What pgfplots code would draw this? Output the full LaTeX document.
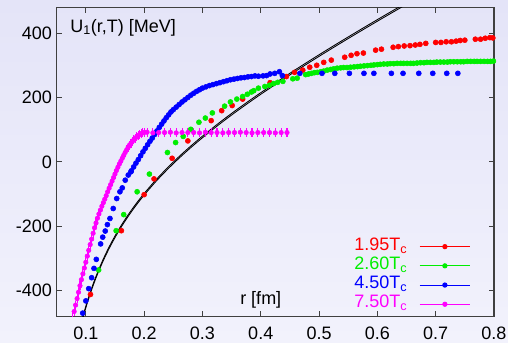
\documentclass[border=0pt]{standalone}
\usepackage{fontspec}
\setmainfont{Liberation Sans}
\usepackage{pgfplots}
\pgfplotsset{compat=1.18}
\definecolor{bgtop}{RGB}{228,228,248}
\definecolor{bgbot}{RGB}{242,242,252}
\definecolor{axgray}{RGB}{64,64,64}
\definecolor{ored}{RGB}{255,0,0}
\definecolor{ogreen}{RGB}{0,238,0}
\definecolor{oblue}{RGB}{0,0,255}
\definecolor{omag}{RGB}{255,0,255}
\begin{document}
\begin{tikzpicture}
\fill[top color=bgtop, bottom color=bgbot] (-42.5pt,-20pt) rectangle (338.5pt,237.25pt);
\useasboundingbox (-42.5pt,-20pt) rectangle (338.5pt,237.25pt);
\begin{axis}[
  scale only axis, width=328pt, height=231.75pt,
  xmin=0.05, xmax=0.8, ymin=-480, ymax=480,
  xtick={0.1,0.2,0.3,0.4,0.5,0.6,0.7,0.8},
  xticklabels={0.1,0.2,0.3,0.4,0.5,0.6,0.7,0.8},
  ytick={-400,-200,0,200,400},
  yticklabels={-400,-200,0,200,400},
  tick align=inside, major tick length=4pt,
  axis line style={axgray, line width=0.9pt},
  every tick/.style={axgray, line width=0.8pt},
  ticklabel style={font=\fontsize{13.5}{16}\selectfont},
  xticklabel style={inner sep=0pt, yshift=-7.5pt},
  legend style={draw=none, fill=none, inner sep=0pt, outer sep=0pt,
    at={(rel axis cs:0.9467,0.2566)}, anchor=north east,
    row sep=0pt, column sep=8.8pt,
    font=\fontsize{13.5}{16}\selectfont,
    nodes={inner sep=0pt, text height=10pt, text depth=4.4pt}},
  legend plot pos=right, legend cell align=right,
  legend image code/.code={\draw[mark repeat=2,mark phase=2] plot coordinates {(0pt,0pt) (19pt,0pt) (38pt,0pt)};},
]
% Cornell-like reference curves
\addplot[black, line width=0.65pt, smooth, forget plot] coordinates {
(0.09,-515.2) (0.095,-480.4) (0.10,-448.6) (0.105,-419.4) (0.11,-392.4) (0.115,-367.4)
(0.12,-344.1) (0.13,-301.8) (0.14,-264.2) (0.15,-230.4) (0.16,-199.7) (0.17,-171.5)
(0.18,-145.4) (0.19,-121.1) (0.20,-98.3) (0.22,-56.4) (0.24,-18.5) (0.26,16.5)
(0.28,49.1) (0.30,79.8) (0.33,123.1) (0.36,163.7) (0.40,214.8) (0.45,275.2)
(0.50,332.7) (0.55,388.1) (0.60,441.9) (0.65,494.5)};
\addplot[black, line width=0.65pt, smooth, forget plot] coordinates {
(0.09,-520.2) (0.095,-485.4) (0.10,-453.6) (0.105,-424.4) (0.11,-397.4) (0.115,-372.4)
(0.12,-349.1) (0.13,-306.8) (0.14,-269.2) (0.15,-235.4) (0.16,-204.7) (0.17,-176.5)
(0.18,-150.4) (0.19,-126.1) (0.20,-103.3) (0.22,-61.4) (0.24,-23.5) (0.26,11.5)
(0.28,44.1) (0.30,74.8) (0.33,118.1) (0.36,158.7) (0.40,209.8) (0.45,270.2)
(0.50,327.7) (0.55,383.1) (0.60,436.9) (0.65,489.5)};
% 1.95 Tc
\addplot[only marks, mark=*, mark size=1.9pt, color=ored, forget plot] coordinates {
(0.108,-412) (0.161,-214) (0.200,-102) (0.217,-53) (0.248,11) (0.275,65) (0.315,128)
(0.333,159) (0.351,175) (0.369,195) (0.416,246) (0.444,265) (0.458,278) (0.472,285)
(0.484,294) (0.496,300) (0.508,309) (0.521,316) (0.544,325) (0.555,331) (0.565,336)
(0.576,338) (0.597,347) (0.607,350) (0.627,356) (0.636,358) (0.646,360) (0.656,361)
(0.665,363) (0.673,365) (0.683,368) (0.700,371) (0.709,371) (0.718,373) (0.727,373)
(0.735,375) (0.742,377) (0.750,378) (0.768,381) (0.777,381) (0.785,384) (0.793,386) (0.798,385)};
% 2.60 Tc
\addplot[only marks, mark=*, mark size=1.9pt, color=ogreen, forget plot] coordinates {
(0.122,-336) (0.152,-214) (0.165,-164) (0.188,-93) (0.209,-38) (0.240,29) (0.254,60)
(0.267,79) (0.280,101) (0.294,123) (0.305,136) (0.317,152) (0.338,173) (0.348,186)
(0.359,195) (0.369,203) (0.377,210) (0.384,217) (0.388,221) (0.396,229) (0.407,234)
(0.415,238) (0.422,243) (0.429,247) (0.438,250) (0.455,258) (0.4625,260) (0.477,271)
(0.482,273) (0.487,275) (0.492,277) (0.497,278) (0.503,280) (0.508,282) (0.514,285)
(0.520,287) (0.525,289) (0.531,291) (0.537,292) (0.542,293) (0.548,293) (0.554,294)
(0.560,295) (0.566,296) (0.571,297) (0.577,298) (0.583,299) (0.589,300) (0.594,301)
(0.600,302) (0.605,303) (0.611,304) (0.617,304) (0.622,305) (0.628,305) (0.634,306)
(0.640,306) (0.645,306) (0.651,306) (0.657,306) (0.662,306) (0.668,307) (0.674,308)
(0.680,308) (0.685,309) (0.691,309) (0.697,309) (0.702,310) (0.708,310) (0.714,310)
(0.720,310) (0.725,311) (0.731,311) (0.737,311) (0.743,311) (0.748,311) (0.754,312)
(0.760,312) (0.766,312) (0.771,312) (0.777,312) (0.783,312) (0.789,312) (0.794,312) (0.799,313)};
% 4.50 Tc
\addplot[only marks, mark=*, mark size=1.9pt, color=oblue, forget plot] coordinates {
(0.0946,-470) (0.100,-432) (0.105,-394) (0.110,-360) (0.114,-331) (0.118,-303)
(0.1254,-255) (0.129,-234) (0.1333,-215) (0.137,-195) (0.1414,-176) (0.147,-145)
(0.153,-114) (0.1585,-93) (0.1625,-81) (0.1676,-57) (0.1728,-41) (0.1774,-31)
(0.178,-28) (0.182,-16) (0.186,-4) (0.190,7) (0.194,19) (0.198,31) (0.202,42)
(0.206,53) (0.210,64) (0.214,74) (0.218,85) (0.222,96) (0.226,107) (0.230,117)
(0.234,127) (0.238,137) (0.242,146) (0.246,155) (0.250,162) (0.255,170) (0.260,178)
(0.265,186) (0.270,193) (0.275,200) (0.280,207) (0.285,213) (0.290,219) (0.295,224)
(0.300,229) (0.306,233) (0.312,237) (0.318,240) (0.324,243) (0.330,246) (0.336,249)
(0.342,252) (0.348,255) (0.354,257) (0.360,259) (0.366,261) (0.372,262) (0.378,264)
(0.384,265) (0.390,267) (0.396,266) (0.404,267) (0.410,268) (0.416,273) (0.424,275)
(0.432,280) (0.437,268) (0.467,275) (0.505,275) (0.527,275) (0.552,275) (0.577,275)
(0.594,275) (0.624,275) (0.644,275) (0.671,275) (0.695,275) (0.719,275) (0.738,275)};
% 7.50 Tc
\addplot[only marks, mark=*, mark size=1.7pt, color=omag, forget plot,
  error bars/.cd, y dir=both, y fixed=14, error mark=none,
  error bar style={omag, line width=0.8pt}] coordinates {
(0.0775,-484) (0.080,-465) (0.0825,-445) (0.085,-425) (0.0875,-405) (0.090,-385)
(0.0925,-366) (0.095,-348) (0.0975,-330) (0.100,-312) (0.1025,-293) (0.105,-275)
(0.1075,-257) (0.110,-240) (0.1125,-222) (0.115,-205) (0.1175,-190) (0.120,-175)
(0.1225,-162) (0.125,-150) (0.1275,-138) (0.130,-127) (0.1325,-116) (0.135,-105)
(0.1375,-93) (0.140,-82) (0.1425,-71) (0.145,-60) (0.1475,-49) (0.150,-38)
(0.1525,-27) (0.155,-17) (0.1575,-7) (0.160,2) (0.1625,11) (0.165,20) (0.1675,29)
(0.170,37) (0.1725,45) (0.175,52) (0.1775,58) (0.180,64) (0.1825,69) (0.185,74)
(0.1875,78) (0.190,82) (0.1925,85) (0.195,88) (0.1975,90) (0.200,91)
(0.205,92) (0.215,90) (0.225,91) (0.235,91) (0.245,92) (0.255,90) (0.265,91)
(0.275,91) (0.285,91) (0.295,90) (0.305,92) (0.315,91) (0.325,91) (0.335,90)
(0.345,91) (0.355,91) (0.365,92) (0.375,91) (0.385,90) (0.395,91) (0.405,91)
(0.415,91) (0.425,90) (0.435,91) (0.445,91)};
% legend
\addlegendimage{ored, mark=*, mark size=1.6pt, line width=0.7pt}
\addlegendentry{\textcolor{ored}{1.95T\textsubscript{c}}}
\addlegendimage{ogreen, mark=*, mark size=1.6pt, line width=0.7pt}
\addlegendentry{\textcolor{ogreen}{2.60T\textsubscript{c}}}
\addlegendimage{oblue, mark=*, mark size=1.6pt, line width=0.7pt}
\addlegendentry{\textcolor{oblue}{4.50T\textsubscript{c}}}
\addlegendimage{omag, mark=*, mark size=1.6pt, line width=0.7pt}
\addlegendentry{\textcolor{omag}{7.50T\textsubscript{c}}}
% labels
\node[anchor=base west, inner sep=0pt, xshift=10pt, yshift=-18.5pt,
  font=\fontsize{13.5}{16}\selectfont] at (rel axis cs:0,1) {U\textsubscript{1}(r,T) [MeV]};
\node[anchor=base west, inner sep=0pt, xshift=137.5pt, yshift=9.2pt,
  font=\fontsize{13.5}{16}\selectfont] at (rel axis cs:0,0) {r [fm]};
\end{axis}
\end{tikzpicture}
\end{document}
